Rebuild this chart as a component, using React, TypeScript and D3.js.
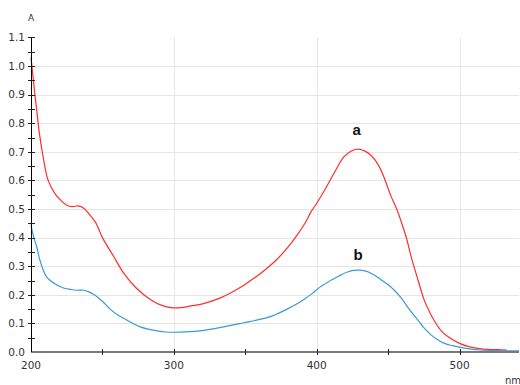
import React from "react";
import * as d3 from "d3";

const seriesA: [number, number][] = [
  [200, 1.03], [202, 0.935], [204, 0.845], [206, 0.76], [208.6, 0.68], [212, 0.6], [217, 0.552],
  [221, 0.53], [225, 0.513], [229, 0.508], [233, 0.511], [237, 0.503], [241, 0.48],
  [245, 0.455], [250, 0.4], [258, 0.333], [265, 0.275], [274, 0.222], [284, 0.182],
  [292, 0.162], [298, 0.155], [305, 0.155], [312, 0.161], [320, 0.168], [326, 0.177],
  [333, 0.19], [340, 0.207], [347, 0.227], [354, 0.251], [360, 0.272], [365, 0.292],
  [371, 0.318], [377, 0.35], [382, 0.38], [387, 0.414], [392, 0.452], [396, 0.49],
  [400, 0.52], [406, 0.57], [412, 0.624], [419, 0.682], [424, 0.702], [428, 0.709],
  [433, 0.704], [438, 0.688], [443, 0.655], [447, 0.612], [452, 0.545], [456, 0.5],
  [459, 0.458], [463, 0.395], [466, 0.335], [471, 0.25], [475, 0.185], [479, 0.14],
  [482, 0.112], [487, 0.075], [492, 0.053], [500, 0.03], [507, 0.018], [513, 0.013],
  [520, 0.009], [527, 0.008], [533, 0.007],
];

const seriesB: [number, number][] = [
  [200, 0.443], [202, 0.4], [204, 0.368], [206, 0.325], [208.6, 0.286], [211, 0.262],
  [213.3, 0.251], [217, 0.238], [220, 0.23], [224, 0.222], [227.4, 0.219], [232, 0.216],
  [236.7, 0.216], [240, 0.211], [243.7, 0.202], [247, 0.19], [250.7, 0.174], [255.4, 0.15],
  [260, 0.132], [264.8, 0.118], [270, 0.103], [276.5, 0.088], [282, 0.08], [288.2, 0.074],
  [294, 0.07], [300, 0.069], [311, 0.071], [318, 0.074], [325, 0.079], [332, 0.085],
  [339, 0.092], [346, 0.099], [353, 0.106], [360, 0.114], [367, 0.123], [373, 0.135],
  [379, 0.149], [385, 0.165], [391, 0.184], [397, 0.205], [402, 0.226], [408, 0.245],
  [415, 0.264], [421, 0.279], [428, 0.286], [435, 0.282], [440, 0.27], [445, 0.253],
  [450, 0.235], [454.3, 0.216], [459, 0.19], [463.6, 0.158], [467, 0.135], [470.7, 0.112],
  [475, 0.085], [480, 0.06], [485, 0.042], [489.4, 0.03], [495, 0.022], [500, 0.017],
  [507, 0.011], [515, 0.007], [525, 0.005], [541.6, 0.004],
];

const yTickLabels = ["0.0", "0.1", "0.2", "0.3", "0.4", "0.5", "0.6", "0.7", "0.8", "0.9", "1.0", "1.1"];
const xTickLabels = ["200", "300", "400", "500"];
const yAxisTitle = "A";
const xAxisTitle = "nm";
const curveLabels = [
  { text: "a", x: 428, y: 0.76 },
  { text: "b", x: 429, y: 0.32 },
];

export default function App() {
  const W = 520, H = 385;
  const x = d3.scaleLinear().domain([200, 541.6]).range([31, 519]);
  const y = d3.scaleLinear().domain([0, 1.1]).range([352, 37.4]);
  const line = d3
    .line<[number, number]>()
    .x((d) => x(d[0]))
    .y((d) => y(d[1]))
    .curve(d3.curveCatmullRom.alpha(0.5));

  const yMinor = d3.range(1, 23).map((i) => i * 0.05);
  const xMinor = d3.range(250, 501, 50);
  const font = "'DejaVu Sans', Verdana, sans-serif";

  return (
    <svg
      width={W}
      height={H}
      style={{ position: "absolute", left: 0, top: 0, background: "#fff" }}
      fontFamily={font}
    >
      {yTickLabels.slice(1, 11).map((t) => (
        <line key={"hg" + t} x1={x(200)} x2={x(541.6)} y1={Math.round(y(+t)) + 0.5} y2={Math.round(y(+t)) + 0.5} stroke="#e6e6e6" strokeWidth={1} />
      ))}
      {xTickLabels.slice(1).map((t) => (
        <line key={"vg" + t} x1={Math.round(x(+t)) + 0.5} x2={Math.round(x(+t)) + 0.5} y1={y(1.1)} y2={y(0)} stroke="#e6e6e6" strokeWidth={1} />
      ))}
      <path d={line(seriesA) || ""} fill="none" stroke="#ff2d2d" strokeWidth={1.2} />
      <path d={line(seriesB) || ""} fill="none" stroke="#3a9ad9" strokeWidth={1.2} />
      <line x1={x(200)} x2={x(541.6)} y1={352} y2={352} stroke="#7a7a7a" strokeWidth={2} />
      {xMinor.map((v) => (
        <line key={"xt" + v} x1={Math.round(x(v)) + 0.5} x2={Math.round(x(v)) + 0.5} y1={349} y2={355} stroke="#222" strokeWidth={1} />
      ))}
      {xTickLabels.map((t) => (
        <text key={"xl" + t} x={x(+t)} y={369} textAnchor="middle" fontSize={10.5} fill="#333">
          {t}
        </text>
      ))}
      <line x1={31.5} x2={31.5} y1={y(1.1)} y2={352} stroke="#000" strokeWidth={1} />
      {yMinor.map((v) => (
        <line key={"yt" + v} x1={28} x2={35} y1={Math.round(y(v)) + 0.5} y2={Math.round(y(v)) + 0.5} stroke="#222" strokeWidth={1} />
      ))}
      {yTickLabels.map((t) => (
        <text key={"yl" + t} x={25} y={y(+t)} dy="0.36em" textAnchor="end" fontSize={10.5} fill="#333">
          {t}
        </text>
      ))}
      <text x={31} y={21} textAnchor="middle" fontSize={9} fill="#333">
        {yAxisTitle}
      </text>
      <text x={505} y={384} textAnchor="start" fontSize={10} fill="#333">
        {xAxisTitle}
      </text>
      {curveLabels.map((c) => (
        <text key={c.text} x={x(c.x)} y={y(c.y)} textAnchor="middle" fontSize={15} fontWeight="bold" fill="#111" fontFamily="'Liberation Sans', Arial, sans-serif">
          {c.text}
        </text>
      ))}
    </svg>
  );
}
